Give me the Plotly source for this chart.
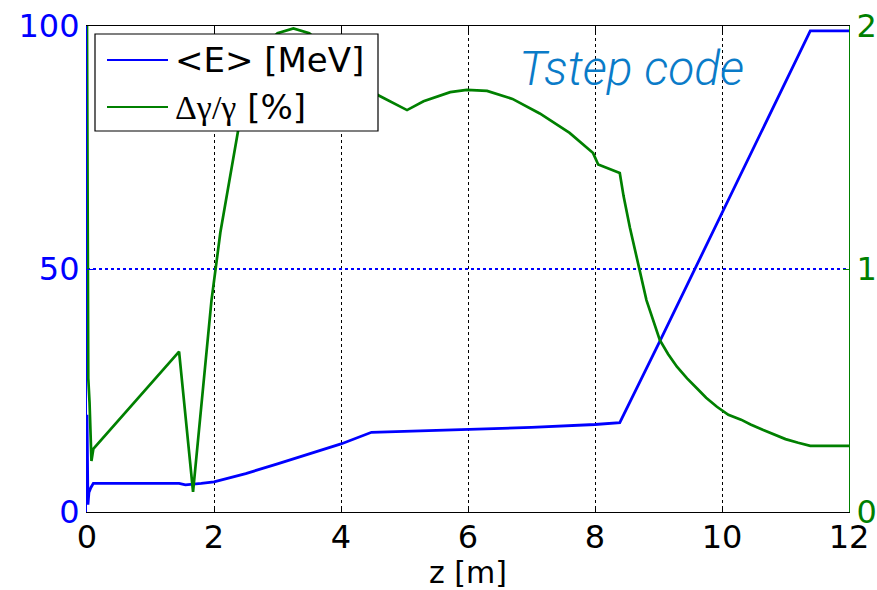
import plotly.graph_objects as go

# ---- data ----
z_E = [0, 0.005, 0.015, 0.03, 0.06, 0.1, 1.45, 1.55, 1.67, 1.8, 2.0, 2.5, 3.0, 3.5, 4.0, 4.48,
       5.0, 6.0, 7.0, 8.0, 8.39, 9.02, 9.97, 11.39, 12]
E_MeV = [20, 3, 1.5, 4, 5, 5.9, 5.9, 5.6, 5.7, 5.9, 6.2, 7.9, 9.9, 11.9, 14.0, 16.4,
         16.6, 16.9, 17.4, 18.0, 18.4, 35.1, 60.8, 99, 99]

z_dg = [0, 0.01, 0.02, 0.04, 0.07, 0.1, 1.45, 1.67, 1.96, 2.1, 2.38, 2.6, 2.8, 3.0, 3.25, 3.5,
        3.8, 4.2, 4.58, 5.04, 5.3, 5.72, 5.98, 6.3, 6.7, 7.13, 7.6, 7.97, 8.05, 8.39, 8.45,
        8.55, 8.7, 8.81, 9.02, 9.15, 9.29, 9.45, 9.6, 9.75, 9.92, 10.1, 10.3, 10.45, 10.65,
        10.8, 11.0, 11.2, 11.39, 12]
dg_pct = [2.0, 0.9, 0.55, 0.45, 0.21, 0.26, 0.66, 0.083, 0.87, 1.15, 1.57, 1.8, 1.92, 1.97, 1.99,
          1.97, 1.90, 1.80, 1.716, 1.654, 1.69, 1.728, 1.737, 1.733, 1.70, 1.64, 1.56, 1.477,
          1.43, 1.395, 1.30, 1.17, 0.99, 0.872, 0.708, 0.65, 0.598, 0.55, 0.51, 0.47, 0.433,
          0.40, 0.38, 0.36, 0.337, 0.32, 0.30, 0.285, 0.272, 0.272]

x_ticks = [0, 2, 4, 6, 8, 10, 12]
y_left_ticks = [0, 50, 100]
y_right_ticks = [0, 1, 2]
legend_labels = ["&lt;E&gt; [MeV]",
                 "<span style=\"font-family:'Liberation Serif'\">Δγ/γ</span> [%]"]

BLUE = "#0000ff"
GREEN = "#008000"
W, H = 877, 590
L, R, T, B = 87, 28, 26, 78
PW, PH = W - L - R, H - T - B


def px(xp):
    return (xp - L) / PW


def py(yp):
    return (H - B - yp) / PH


fig = go.Figure()
fig.add_trace(go.Scatter(x=z_dg, y=dg_pct, mode="lines", yaxis="y2",
                         line=dict(color=GREEN, width=2.7), showlegend=False))
fig.add_trace(go.Scatter(x=z_E, y=E_MeV, mode="lines", yaxis="y",
                         line=dict(color=BLUE, width=2.8), showlegend=False))

tickfont = dict(family="DejaVu Sans", size=32)

fig.update_layout(
    width=W, height=H,
    margin=dict(l=L, r=R, t=T, b=B, autoexpand=False),
    paper_bgcolor="white", plot_bgcolor="white",
    showlegend=False,
    xaxis=dict(range=[0, 12], tickvals=x_ticks, ticks="inside", ticklen=6,
               tickcolor="black", showline=True, linecolor="black", linewidth=1.2,
               mirror="ticks", showgrid=True, gridcolor="black", griddash="dot",
               gridwidth=1, zeroline=False, automargin=False, ticklabelstandoff=-4,
               tickfont=dict(tickfont, color="black"),
               title=dict(text="z [m]", font=dict(family="DejaVu Sans", size=30, color="black"),
                          standoff=0)),
    yaxis=dict(range=[0, 100], tickvals=y_left_ticks, ticks="inside", ticklen=6,
               tickcolor=BLUE, showline=True, linecolor=BLUE, linewidth=1.2,
               showgrid=True, gridcolor=BLUE, griddash="dot", gridwidth=1.5,
               zeroline=False, automargin=False, tickfont=dict(tickfont, color=BLUE)),
    yaxis2=dict(range=[0, 2], tickvals=y_right_ticks, ticks="inside", ticklen=6,
                tickcolor=GREEN, showline=True, linecolor=GREEN, linewidth=1.2,
                overlaying="y", side="right", showgrid=False, zeroline=False,
                automargin=False, tickfont=dict(tickfont, color=GREEN)),
)

# legend box (drawn as layout decoration)
fig.add_shape(type="rect", xref="paper", yref="paper",
              x0=px(95), x1=px(378), y0=py(131), y1=py(34),
              fillcolor="white", line=dict(color="black", width=1.2), layer="above")
for yy, col, lab in [(60, BLUE, legend_labels[0]), (107, GREEN, legend_labels[1])]:
    fig.add_shape(type="line", xref="paper", yref="paper",
                  x0=px(107), x1=px(168), y0=py(yy), y1=py(yy),
                  line=dict(color=col, width=2), layer="above")
    fig.add_annotation(text=lab, xref="paper", yref="paper", x=px(173), y=py(yy),
                       xanchor="left", yanchor="middle", showarrow=False,
                       font=dict(family="DejaVu Sans", size=34, color="black"))

fig.add_annotation(text="<i>Tstep code</i>", xref="paper", yref="paper",
                   x=px(517), y=py(68), xanchor="left", yanchor="middle", showarrow=False,
                   font=dict(family="Roboto", size=48, color="#0a7bc8", weight=300))

fig.write_html("out.html")
